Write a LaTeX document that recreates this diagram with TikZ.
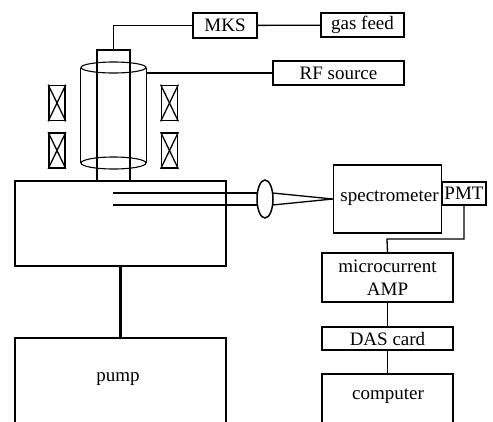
\documentclass[tikz,border=0pt]{standalone}
\usepackage{fontspec}
\setmainfont{Liberation Serif}
\usetikzlibrary{positioning,shapes.geometric}
\tikzset{
    boxn/.style={draw,rectangle,line width=1.5pt,inner sep=0pt,font=\fontsize{19}{23}\selectfont,align=center},
    thinn/.style={boxn,line width=1.1pt},
    coiln/.style={draw,rectangle,line width=1.7pt,inner sep=0pt,minimum width=16pt,minimum height=35pt},
    labeln/.style={font=\fontsize{19}{23}\selectfont},
    wire/.style={line width=1.3pt},
}
\begin{document}
\begin{tikzpicture}[x=1pt,y=-1pt]
    \clip (0,0) rectangle (493,421);
    \node[boxn,minimum width=64pt,minimum height=25pt] (nMKS) at (225,25.5) {MKS};
    \node[boxn,minimum width=83pt,minimum height=24pt] (nGas) at (362.5,25) {gas feed};
    \node[boxn,minimum width=131pt,minimum height=24pt] (nRF) at (338.5,73) {RF source};

    \node[thinn,minimum width=33pt,minimum height=131pt] (nTube) at (113.5,115.5) {};
    \node[thinn,ellipse,minimum width=65pt,minimum height=11pt] (nTop) at (113.5,67.5) {};
    \node[thinn,ellipse,minimum width=65pt,minimum height=12pt] (nBot) at (113.5,163) {};
    \draw[wire] (nTop.west) -- (nBot.west);
    \draw[wire] (nTop.east) -- (nBot.east);

    \foreach \xc/\yc/\nm in {57/103/a,57/150.5/b,169.5/103/c,169.5/150.5/d} {
        \node[coiln] (n\nm) at (\xc,\yc) {};
        \draw[wire] (n\nm.north west) -- (n\nm.south east);
        \draw[wire] (n\nm.north east) -- (n\nm.south west);
    }

    \node[boxn,minimum width=211pt,minimum height=85pt] (nChamber) at (120.5,223.5) {};
    \node[boxn,minimum width=211pt,minimum height=100pt] (nPump) at (120.5,388) {};
    \node[labeln] (lPump) at (118,379) {pump};

    \node[boxn,minimum width=108pt,minimum height=68pt] (nSpec) at (387.5,199) {};
    \node[labeln] (lSpec) at (389.5,198) {spectrometer};
    \node[thinn,minimum width=44pt,minimum height=23pt] (nPMT) at (464,193.5) {PMT};
    \node[boxn,minimum width=131pt,minimum height=49pt] (nAmp) at (387.5,277.5) {microcurrent\\AMP};
    \node[boxn,minimum width=131pt,minimum height=23pt] (nDAS) at (387.5,338.5) {DAS card};
    \node[boxn,minimum width=131pt,minimum height=60pt] (nComp) at (387.5,404) {};
    \node[labeln] (lComp) at (388,396) {computer};

    \node[boxn,ellipse,minimum width=16pt,minimum height=38pt] (nLens) at (265,199) {};
    \coordinate (b1) at (113,193);
    \coordinate (b2) at (113,205);
    \coordinate (c1) at (257.5,193);
    \coordinate (c2) at (257.5,205);
    \coordinate (d1) at (272.5,193);
    \coordinate (d2) at (272.5,205);
    \coordinate (e1) at (387,239);

    \draw[wire] (nMKS) -- (nGas);
    \draw[wire] (nMKS.west) -| (nTube.north);
    \draw[wire] (nRF.west) -- (nRF.west -| nTop.east);
    \draw[wire] (b1) -- (c1);
    \draw[wire] (b2) -- (c2);
    \draw[wire] (d1) -- (nSpec.west);
    \draw[wire] (d2) -- (nSpec.west);
    \draw[line width=2.2pt] (nChamber.south) -- (nPump.north);
    \draw[wire] (nPMT.south) |- (e1) -- (nAmp.north);
    \draw[wire] (nAmp) -- (nDAS);
    \draw[wire] (nDAS) -- (nComp);
\end{tikzpicture}
\end{document}
